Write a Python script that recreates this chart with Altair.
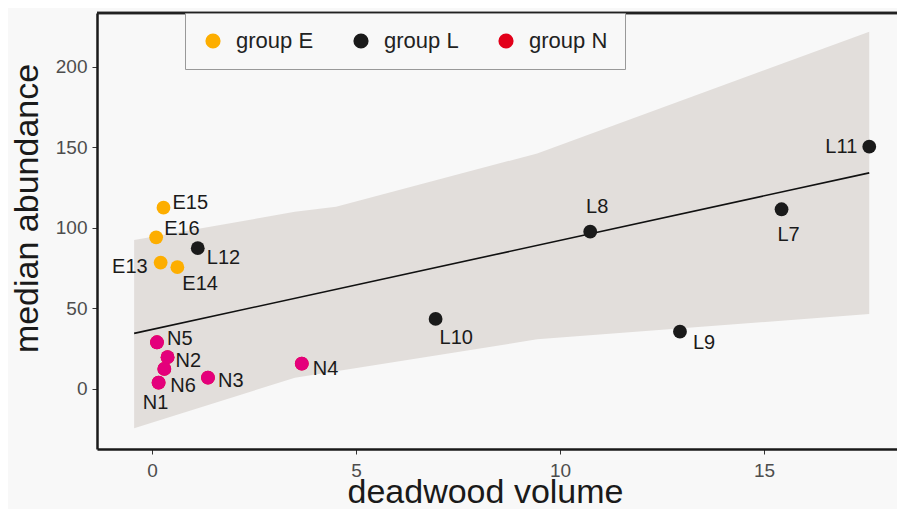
import altair as alt
import pandas as pd

# ---- data ----
names = ["E13", "E14", "E15", "E16", "L7", "L8", "L9", "L10", "L11", "L12",
         "N1", "N2", "N3", "N4", "N5", "N6"]
groups = ["group E"] * 4 + ["group L"] * 6 + ["group N"] * 6
volume = [0.21, 0.62, 0.28, 0.10, 15.43, 10.74, 12.94, 6.95, 17.58, 1.12,
          0.16, 0.38, 1.37, 3.67, 0.12, 0.30]
abundance = [78.5, 75.6, 112.6, 94.2, 111.6, 97.7, 35.6, 43.5, 150.5, 87.4,
             3.9, 19.7, 7.0, 15.7, 29.0, 12.4]

fit_x = [-0.44, 17.58]
fit_y = [34.5, 134.2]

band_x = [-0.44, 3.5, 4.51, 9.44, 17.58]
band_lo = [-24.4, 7.0, 11.0, 30.8, 46.6]
band_hi = [92.5, 110.0, 113.2, 146.3, 221.9]

x_ticks = [0, 5, 10, 15]
y_ticks = [0, 50, 100, 150, 200]
X_MIN, X_MAX = -1.35, 18.26
Y_MIN, Y_MAX = -37.3, 233.5

group_domain = ["group E", "group L", "group N"]

# ---- styles ----
legend_colors = ["#FDAE00", "#1a1a1a", "#E2001A"]
point_N_color = "#E4007C"
FONT = "Liberation Sans"
label_style = {  # name: (dx, dy, align)
    "E15": (9, -5, "left"), "E16": (8, -8, "left"), "L12": (9, 10, "left"),
    "E13": (-13, 4, "right"), "E14": (5, 17, "left"),
    "N5": (10, -3, "left"), "N2": (8, 4, "left"), "N6": (6, 17, "left"),
    "N1": (-3, 20, "center"), "N3": (10, 3, "left"), "N4": (11, 5, "left"),
    "L10": (4, 19, "left"), "L9": (13, 11, "left"), "L8": (7, -25, "center"),
    "L7": (7, 26, "center"), "L11": (-12, 0, "right"),
}

pts = pd.DataFrame({"name": names, "group": groups, "volume": volume, "abundance": abundance})
fit = pd.DataFrame({"volume": fit_x, "abundance": fit_y})
band = pd.DataFrame({"volume": band_x, "lo": band_lo, "hi": band_hi})

xscale = alt.Scale(domain=[X_MIN, X_MAX], nice=False, zero=False)
yscale = alt.Scale(domain=[Y_MIN, Y_MAX], nice=False, zero=False)

xaxis = alt.Axis(values=x_ticks, title="deadwood volume", grid=False, titleX=388,
                 titleBaseline="alphabetic", titlePadding=22, titleFontSize=34)
yaxis = alt.Axis(values=y_ticks, title="median abundance", grid=False, titleY=195,
                 titlePadding=11, titleFontSize=34)

ribbon = alt.Chart(band).mark_area(color="#e2dedb", opacity=1).encode(
    x=alt.X("volume:Q", scale=xscale, axis=xaxis),
    y=alt.Y("lo:Q", scale=yscale, axis=yaxis),
    y2="hi:Q",
)

line = alt.Chart(fit).mark_line(color="#111111", strokeWidth=1.6).encode(
    x="volume:Q", y="abundance:Q"
)

points = alt.Chart(pts).mark_circle(size=190, opacity=1).encode(
    x="volume:Q",
    y="abundance:Q",
    color=alt.Color(
        "group:N",
        scale=alt.Scale(domain=group_domain, range=legend_colors),
        legend=alt.Legend(
            title=None, orient="none", legendX=88, legendY=0,
            direction="horizontal", columns=3,
            symbolType="circle", symbolSize=230, symbolStrokeWidth=0,
            labelFont=FONT, labelFontSize=22, labelColor="#222222",
            labelOffset=12, columnPadding=36, padding=17,
            strokeColor="#999999", fillColor="#f8f8f8",
        ),
    ),
)

points_n = alt.Chart(pts).transform_filter(alt.datum.group == "group N").mark_circle(
    size=190, opacity=1, color=point_N_color
).encode(x="volume:Q", y="abundance:Q")

labels = []
for nm, (dx, dy, al) in label_style.items():
    labels.append(
        alt.Chart(pts).transform_filter(alt.datum.name == nm).mark_text(
            dx=dx, dy=dy, align=al, baseline="middle", font=FONT, fontSize=20, color="#1a1a1a"
        ).encode(x="volume:Q", y="abundance:Q", text="name:N")
    )

top_border = alt.Chart(fit).mark_rule(color="#222222", strokeWidth=2.5).encode(
    y=alt.datum(Y_MAX)
)

chart = alt.layer(ribbon, line, points, points_n, *labels, top_border).properties(
    width=800, height=436,
    autosize=alt.AutoSizeParams(type="none"),
    padding={"left": 89, "top": 5, "right": 0, "bottom": 60},
    background="#f8f8f8",
).configure_view(stroke=None).configure_axis(
    domainColor="#1a1a1a", domainWidth=2.5,
    tickColor="#333333", tickWidth=1, tickSize=5,
    labelFont=FONT, labelFontSize=19, labelColor="#4d4d4d", labelPadding=5,
    titleFont=FONT, titleFontWeight="normal", titleColor="#1a1a1a",
).configure_axisX(labelPadding=7)

chart.save("out.html", embed_options={"renderer": "svg", "actions": False})
